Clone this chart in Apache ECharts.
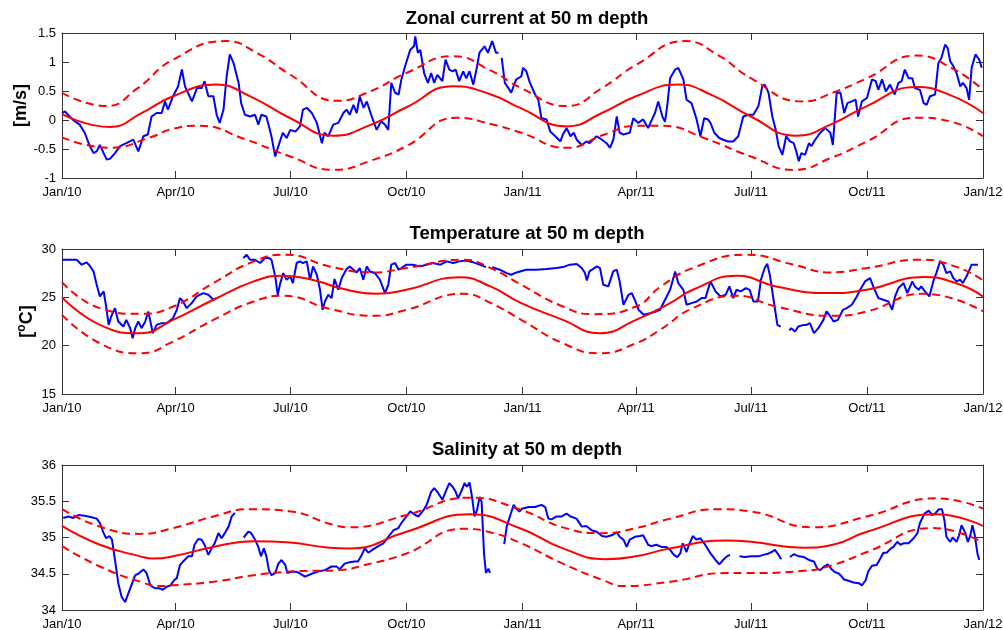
<!DOCTYPE html>
<html>
<head>
<meta charset="utf-8">
<title>50 m mooring records 2010-2011</title>
<script src="https://cdn.jsdelivr.net/npm/echarts@6/dist/echarts.min.js"></script>
<style>
  html, body { margin: 0; padding: 0; background: #fff; }
  #chart { width: 1003px; height: 630px; }
</style>
</head>
<body>
<div id="chart"></div>
<script>
// Time is counted in days from 1 Jan 2010.
const tickDays = [0, 90, 181, 273, 365, 455, 546, 638, 730];
const tickLabels = ['Jan/10', 'Apr/10', 'Jul/10', 'Oct/10', 'Jan/11', 'Apr/11', 'Jul/11', 'Oct/11', 'Jan/12'];

// Zonal current [m/s]: observed record, seasonal fit and its upper/lower envelope
const zonalObs = [
  [0,0.12],[2.4,0.15],[6,0.06],[10,-0.02],[14,-0.08],[18,-0.22],[22,-0.45],[25,-0.57],[27.5,-0.54],[30,-0.43],
  [33,-0.57],[35.4,-0.68],[38,-0.67],[42,-0.57],[46,-0.45],[51,-0.40],[56.5,-0.34],[60.5,-0.54],[64.5,-0.28],[68,-0.25],
  [71,0.06],[75,0.12],[79,0.12],[81.6,0.32],[84,0.18],[88,0.41],[92,0.58],[95,0.87],[97.5,0.58],[103,0.32],
  [107,0.55],[110.7,0.55],[113,0.67],[116,0.41],[120,0.41],[122.6,0.09],[125,-0.05],[128,0.18],[130.5,0.75],[133,1.13],
  [136,0.98],[140,0.64],[142,0.29],[145,0.09],[149,0.06],[153,0.09],[155.6,-0.08],[158,0.09],[162,0.06],[166,-0.28],
  [169,-0.63],[171.5,-0.45],[175,-0.22],[178,-0.31],[181,-0.17],[185,-0.20],[188.6,-0.11],[191,0.18],[194,0.21],[198,0.12],
  [202,-0.05],[206,-0.40],[208,-0.22],[211,-0.28],[215,-0.08],[219,-0.05],[223,0.12],[225.5,0.18],[228,0.09],[231,0.26],
  [233.6,0.12],[236,0.41],[239,0.21],[241.6,0.32],[245.5,0.06],[249.4,-0.17],[253,-0.02],[256,-0.08],[258.6,-0.17],[261,0.64],
  [264,0.47],[266.8,0.44],[269,0.70],[272,0.93],[276,1.21],[279,1.27],[280,1.44],[282,1.16],[284,1.21],[287,0.81],
  [290,0.64],[292.6,0.81],[295,0.64],[297.5,0.78],[301.5,0.67],[304,1.04],[307,0.87],[309.6,0.84],[312,0.87],[314.8,0.67],
  [318,0.84],[320.4,0.72],[323,0.84],[326,0.61],[328.5,0.87],[330.9,1.16],[334.9,1.27],[337.6,1.16],[341,1.36],[344,1.16],
  [346,1.16],[347,null],[348.5,1.07],[351,0.64],[353.8,0.55],[356,0.47],[360,0.70],[364,0.75],[365.5,0.90],[368,0.84],
  [370.9,0.64],[375,0.44],[377.5,0.35],[380,0.03],[384,0.01],[387,-0.20],[391,-0.28],[395,-0.37],[397,-0.25],[400,-0.14],
  [403,-0.28],[405.6,-0.22],[408,-0.34],[412,-0.43],[415.6,-0.37],[418,-0.40],[423.8,-0.28],[428,-0.34],[431.6,-0.40],[434.4,-0.48],
  [437,-0.34],[439.7,0.06],[442,-0.22],[445,-0.25],[450,-0.22],[452.8,0.03],[456.8,-0.05],[460.6,0.01],[464.6,-0.14],[467,-0.02],
  [470,0.12],[472.6,0.32],[476,0.05],[478,-0.03],[480,0.30],[482,0.72],[486,0.87],[488.5,0.90],[492.5,0.70],[495,0.35],
  [499,0.29],[503,0.01],[506,-0.28],[509,0.03],[512,0.01],[514,-0.05],[517,-0.22],[521,-0.31],[524,-0.34],[528,-0.37],
  [532,-0.37],[536,-0.28],[540,0.06],[544,0.09],[548,0.09],[552,0.24],[555,0.58],[557,0.61],[560,0.47],[563,0.06],
  [565.7,-0.17],[568,-0.45],[571,-0.60],[574,-0.28],[577,-0.37],[580,-0.40],[582,-0.54],[584,-0.71],[586,-0.57],[589,-0.60],
  [592,-0.40],[594,-0.45],[597,-0.34],[601,-0.22],[605,-0.14],[609,-0.22],[611,-0.43],[614,0.47],[617,0.47],[620,0.12],
  [622.5,0.29],[626,0.32],[629,0.35],[631,0.06],[634,0.32],[638,0.38],[642,0.70],[645,0.67],[647,0.52],[650,0.70],
  [653,0.49],[656.3,0.61],[660,0.44],[663,0.64],[665.5,0.67],[668,0.87],[671,0.72],[674,0.72],[676,0.55],[680,0.52],
  [683,0.29],[685.3,0.26],[688,0.41],[692,0.44],[694.6,0.98],[697,1.07],[700,1.30],[702,1.24],[704,1.01],[706.5,0.93],
  [709,0.81],[712,0.58],[714,0.64],[717,0.55],[719,0.35],[721,0.90],[724,1.13],[727,1.04],[729,0.90]
];
const zonalFit = [
  [0,0.10],[38,-0.12],[63,0.12],[88,0.41],[122,0.61],[150,0.40],[181,0.03],[215,-0.27],[245,-0.08],[273,0.22],
  [310,0.58],[340,0.44],[364,0.20],[400,-0.11],[428,0.12],[455,0.41],[488,0.61],[516,0.42],[546,0.06],[582,-0.27],
  [610,-0.07],[638,0.24],[677,0.57],[705,0.42],[730,0.12]
];
const zonalHi = [
  [0,0.47],[35,0.24],[60,0.55],[88,1.04],[130,1.36],[155,1.15],[181,0.78],[218,0.33],[245,0.50],[273,0.81],
  [310,1.10],[340,0.85],[364,0.55],[400,0.24],[428,0.55],[455,0.95],[494,1.36],[520,1.12],[546,0.72],[587,0.32],
  [612,0.48],[638,0.72],[677,1.11],[705,0.90],[730,0.52]
];
const zonalLo = [
  [0,-0.30],[38,-0.48],[70,-0.30],[88,-0.15],[109,-0.10],[145,-0.33],[181,-0.63],[215,-0.86],[245,-0.70],[273,-0.45],
  [313,0.04],[340,-0.07],[364,-0.22],[400,-0.48],[430,-0.25],[455,-0.10],[476,-0.10],[510,-0.32],[546,-0.63],[580,-0.86],
  [610,-0.65],[638,-0.37],[677,0.04],[705,-0.03],[730,-0.28]
];

// Temperature [degC]
const tempObs = [
  [0,28.89],[11.6,28.89],[15.6,28.38],[19.5,28.62],[22,28.27],[25,27.68],[27.5,26.30],[30,25.09],[33,25.61],[35,24.05],
  [37,22.15],[39,23.02],[42,23.88],[44.6,22.50],[48.6,21.98],[51,22.67],[54,21.81],[56,20.77],[58,21.81],[60.5,22.50],
  [63,21.81],[66,22.50],[68.4,23.54],[72,21.29],[75,22.15],[79,22.33],[83,22.33],[88,22.84],[91,23.71],[93.5,24.92],
  [96,24.57],[98.8,23.88],[102.8,24.40],[106.7,25.09],[112,25.44],[116,25.26],[120,24.75],[122.6,24.92],[130,null],
  [143.7,29.07],[146.4,29.41],[149,28.89],[153,28.89],[157,28.55],[161,29.07],[163.6,29.07],[166,28.89],[169,27.17],[171,25.26],
  [173,26.47],[175.4,27.51],[178,26.82],[181,27.17],[183,26.47],[186,28.55],[188.6,28.72],[191,28.55],[194,28.72],[196.6,26.82],
  [199,28.20],[202,27.34],[204.5,25.78],[206.6,23.71],[208.4,24.57],[211,25.26],[213.7,24.92],[216,26.90],[219,25.78],[221.7,26.99],
  [225.6,27.93],[228,28.20],[231,27.86],[233.6,27.58],[236,28.03],[238.8,26.82],[241.5,28.20],[244,27.68],[248,27.51],[252,26.82],
  [256,25.44],[258.6,26.30],[261,28.38],[264,28.55],[266.8,27.86],[269,28.03],[273,28.38],[278,28.38],[283.8,28.20],[289,28.38],
  [294,28.55],[300,28.38],[305,28.72],[310,28.55],[315,28.72],[320,28.82],[326,28.62],[331,28.38],[336,28.13],[339,null],
  [341,28.13],[347,27.86],[352.4,27.51],[356,27.34],[359,27.51],[363,27.68],[368,27.86],[376,27.86],[384,27.93],[392,28.03],
  [397,28.13],[402.6,28.38],[408,28.44],[412,28.03],[414.5,27.51],[416,26.75],[418,27.68],[424,28.20],[426.4,28.03],[429,26.30],
  [433,26.13],[436.9,27.68],[439.7,27.86],[442,26.65],[445,24.23],[449,25.26],[451.6,25.44],[454,24.75],[457,23.71],[461,23.19],
  [466,23.36],[471,23.54],[474,23.71],[478,24.75],[482,25.78],[486,27.68],[488.5,26.47],[492.5,25.78],[495,24.23],[499,24.40],
  [503,24.57],[507,24.92],[510,24.92],[514,26.65],[518,25.61],[522,25.09],[526,25.26],[529,26.13],[532,24.92],[534.6,25.78],
  [538,25.61],[542,25.96],[545,25.78],[548,24.57],[551.6,24.57],[554,26.82],[557,28.03],[559,28.48],[561,27.34],[564,24.75],
  [567,22.15],[569.6,21.98],[573,null],
  [576.5,21.57],[578,21.81],[581,21.46],[583.6,21.98],[588,22.15],[590,22.15],[592.8,22.33],[596,21.29],[599.5,21.81],[603.5,22.67],
  [606,23.54],[609,23.02],[611.6,22.50],[615,22.67],[619,23.71],[622,23.88],[626,24.23],[630,25.09],[632.6,25.78],[636.5,26.65],
  [640.5,26.99],[643,26.13],[647,24.92],[651,24.75],[655,24.57],[658,23.71],[660.3,25.09],[663,25.96],[667,26.47],[670,25.44],
  [674,26.65],[676,26.13],[679,25.78],[681,26.13],[684,25.61],[687.5,25.09],[690.6,26.65],[693,27.51],[696,28.72],[698.6,28.38],
  [701,27.51],[704,27.68],[706.5,26.99],[709,26.65],[712,26.82],[714,26.47],[717,27.17],[721,28.38],[724,28.38],[726,28.38]
];
const tempFit = [
  [0,25.00],[30,22.15],[62,21.29],[88,22.67],[120,24.75],[152,26.65],[175,27.23],[202,26.70],[220,25.96],[249,25.37],
  [273,25.78],[315,27.08],[340,26.10],[364,24.40],[397,22.67],[426,21.29],[455,22.67],[482,24.40],[500,25.78],[535,27.23],
  [566,26.13],[606,25.44],[638,25.78],[683,27.10],[710,26.40],[730,25.09]
];
const tempHi = [
  [0,26.58],[30,23.88],[62,23.29],[88,24.05],[120,26.47],[152,28.72],[178,29.41],[212,28.20],[247,27.58],[273,28.03],
  [318,28.90],[340,28.00],[364,26.30],[397,24.05],[421,23.26],[455,24.05],[474,26.06],[500,28.03],[543,29.41],[580,28.38],
  [609,27.58],[638,28.03],[680,28.90],[710,28.10],[730,26.75]
];
const tempLo = [
  [0,23.19],[30,20.25],[62,19.21],[88,20.43],[120,22.67],[152,24.57],[175,25.16],[212,23.81],[247,23.09],[273,23.71],
  [318,25.37],[340,24.40],[364,22.67],[397,20.25],[426,19.21],[455,20.25],[474,21.64],[500,23.88],[535,25.16],[566,24.05],
  [611,23.09],[638,23.54],[683,25.37],[730,23.54]
];

// Salinity
const salObs = [
  [1,35.27],[5,35.29],[9,35.27],[13,35.31],[18,35.30],[23.5,35.28],[27.5,35.26],[30,35.20],[33,35.06],[35,34.99],
  [37.5,35.02],[39.6,34.97],[42,34.69],[44.6,34.37],[47.3,34.18],[50,34.11],[52.6,34.23],[55,34.34],[58,34.48],[60.5,34.50],
  [64.5,34.56],[67,34.51],[70,34.34],[73.7,34.30],[77,34.30],[80,34.28],[83,34.32],[86,34.34],[88.8,34.41],[91,34.44],
  [93.5,34.62],[96,34.67],[100,34.74],[103,34.74],[105,34.90],[108,34.98],[110.7,34.97],[113,34.90],[116,34.76],[118.6,34.85],
  [121,34.92],[124,35.06],[126.5,34.99],[129,35.06],[132,35.15],[134.5,35.29],[137,35.34],[140,null],
  [144,35.00],[147.7,35.08],[150,35.06],[153,34.97],[155.6,34.87],[157.7,34.74],[160,34.85],[162,34.74],[164,34.55],[166,34.48],
  [169,34.51],[171.5,34.64],[174,34.69],[177,34.62],[178.6,34.51],[182,34.53],[187,34.52],[192.6,34.46],[198,34.50],[203,34.53],
  [208.5,34.55],[213.7,34.60],[217.7,34.60],[220,34.56],[224,34.64],[228,34.66],[232,34.67],[234.6,34.67],[237,34.74],[240,34.85],
  [242.8,34.79],[246.8,34.84],[250.7,34.88],[254.7,34.92],[258.6,35.01],[262.7,35.10],[266.6,35.13],[269,35.20],[273,35.29],[276,35.36],
  [280,35.31],[282.6,35.29],[286.6,35.38],[289,35.45],[292.6,35.63],[295,35.68],[297.5,35.63],[301.5,35.52],[304,35.63],[307,35.75],
  [309.6,35.70],[312,35.63],[314,35.54],[318,35.70],[319,35.75],[321,35.70],[323,35.76],[325,35.56],[327,35.29],[329,35.38],
  [331,35.56],[332.6,35.49],[334.5,34.78],[336,34.51],[338,34.57],[339.2,34.51],[345,null],
  [350.5,34.91],[352.5,35.15],[355,35.29],[358,35.45],[360,35.40],[362.5,35.36],[365,35.40],[370,35.42],[375,35.42],[380,35.45],
  [383,35.42],[385.5,35.26],[388,35.25],[392,35.29],[396,35.29],[400,35.33],[403,35.29],[407.8,35.26],[412,35.15],[415.6,35.16],
  [419.8,35.10],[423.8,35.08],[428,35.02],[431.6,35.01],[435.7,35.03],[439.7,35.07],[442,35.01],[445,34.97],[447.6,34.87],[450,34.97],
  [454,35.01],[458,35.02],[460.6,35.03],[464.6,34.90],[467,34.88],[471,34.90],[475,34.87],[479,34.87],[482,34.83],[485,34.76],
  [487.6,34.73],[490,34.78],[492,34.92],[495,34.80],[497,34.90],[500,35.02],[503,34.97],[506,34.99],[509,34.92],[511.6,34.85],
  [514,34.78],[518,34.69],[521,34.63],[524,34.69],[527,34.74],[529.5,34.76],[533,null],
  [537,34.74],[541,34.73],[546.6,34.74],[552,34.74],[556,34.76],[560,34.78],[562.6,34.80],[565,34.83],[568,34.76],[570,34.70],[573,null],
  [577,34.73],[580,34.77],[584,34.74],[588,34.73],[592,34.69],[596,34.67],[598.6,34.57],[601,34.55],[604,34.60],[607,34.63],
  [609.6,34.57],[612,34.53],[616,34.50],[620,34.42],[624,34.40],[627.3,34.38],[631.6,34.37],[634,34.34],[637,34.41],[639,34.53],
  [642,34.61],[645.6,34.62],[648,34.69],[651,34.79],[653.6,34.79],[657,34.85],[659,34.87],[662,34.94],[664.6,34.90],[667,34.92],
  [671,34.92],[675,34.99],[678,35.06],[680,35.20],[683.6,35.33],[687,35.37],[689.6,35.31],[692,35.33],[695,35.39],[697.5,35.39],
  [699.4,35.24],[701,35.01],[704,34.94],[706,35.00],[709,34.94],[711,35.03],[713,35.17],[716,35.06],[718,34.94],[720,35.03],
  [721.6,35.17],[723.5,35.03],[725.6,34.78],[727,34.69]
];
const salFit = [
  [0,35.16],[30,34.90],[62,34.74],[72,34.71],[88,34.74],[120,34.87],[152,34.95],[181,34.93],[212,34.86],[228,34.85],
  [273,35.08],[323,35.32],[364,35.12],[397,34.85],[431,34.70],[455,34.74],[482,34.85],[527,34.96],[546,34.94],[588,34.86],
  [611,34.90],[638,35.08],[693,35.32],[730,35.16]
];
const salHi = [
  [0,35.39],[30,35.15],[62,35.05],[88,35.13],[120,35.29],[149,35.39],[181,35.36],[212,35.19],[228,35.14],[273,35.31],
  [323,35.55],[364,35.38],[397,35.14],[429,35.06],[455,35.13],[482,35.26],[519,35.39],[546,35.36],[595,35.14],[638,35.29],
  [693,35.54],[730,35.40]
];
const salLo = [
  [0,34.88],[30,34.60],[62,34.39],[78,34.33],[88,34.34],[120,34.39],[152,34.48],[181,34.53],[220,34.55],[240,34.62],
  [273,34.78],[318,35.12],[340,35.07],[364,34.92],[397,34.64],[429,34.41],[445,34.33],[482,34.39],[527,34.51],[546,34.51],
  [588,34.54],[611,34.62],[638,34.80],[690,35.13],[730,34.93]
];

const panels = [
  { title: 'Zonal current at 50 m depth', top: 33, titleTop: 4, min: -1, max: 1.5, step: 0.5,
    name: '[m/s]', nameGap: 32, obs: zonalObs, fit: zonalFit, hi: zonalHi, lo: zonalLo },
  { title: 'Temperature at 50 m depth', top: 249, titleTop: 219, min: 15, max: 30, step: 5,
    name: '[{s|o}C]', nameGap: 24, obs: tempObs, fit: tempFit, hi: tempHi, lo: tempLo },
  { title: 'Salinity at 50 m depth', top: 465, titleTop: 435, min: 34, max: 36, step: 0.5,
    name: '', nameGap: 30, obs: salObs, fit: salFit, hi: salHi, lo: salLo }
];

const FONT = "'Liberation Sans', Arial, Helvetica, sans-serif";
const frameColor = '#333';
const grids = [], xAxes = [], yAxes = [], titles = [], series = [];

panels.forEach((p, i) => {
  grids.push({ left: 62, top: p.top, width: 921, height: 145, containLabel: false, outerBoundsMode: 'none' });
  titles.push({
    text: p.title, left: 522, top: p.titleTop, textAlign: 'center',
    textStyle: { fontFamily: FONT, fontSize: 18.5, fontWeight: 'bold', color: '#000' }
  });
  const tickCommon = { show: true, inside: true, length: 7, lineStyle: { color: frameColor, width: 1 } };
  // bottom time axis with labels, top mirror axis with ticks only
  xAxes.push({
    gridIndex: i, type: 'value', position: 'bottom', min: 0, max: 730,
    axisLine: { show: true, onZero: false, lineStyle: { color: frameColor, width: 1 } },
    axisTick: Object.assign({ customValues: tickDays }, tickCommon),
    axisLabel: {
      customValues: tickDays, showMinLabel: true, showMaxLabel: true, margin: 8,
      fontFamily: FONT, fontSize: 13, color: '#000',
      formatter: v => tickLabels[tickDays.indexOf(v)]
    },
    splitLine: { show: false }
  });
  xAxes.push({
    gridIndex: i, type: 'value', position: 'top', min: 0, max: 730,
    axisLine: { show: true, onZero: false, lineStyle: { color: frameColor, width: 1 } },
    axisTick: Object.assign({ customValues: tickDays }, tickCommon),
    axisLabel: { show: false },
    splitLine: { show: false }
  });
  yAxes.push({
    gridIndex: i, type: 'value', position: 'left', min: p.min, max: p.max, interval: p.step,
    axisLine: { show: true, onZero: false, lineStyle: { color: frameColor, width: 1 } },
    axisTick: tickCommon,
    axisLabel: { margin: 6, fontFamily: FONT, fontSize: 13, color: '#000' },
    splitLine: { show: false },
    name: p.name, nameLocation: 'middle', nameGap: p.nameGap, nameMoveOverlap: false,
    nameTextStyle: {
      fontFamily: FONT, fontSize: 18, fontWeight: 'bold', color: '#000',
      rich: { s: { fontFamily: FONT, fontSize: 12, fontWeight: 'bold', color: '#000', verticalAlign: 'top', lineHeight: 22 } }
    }
  });
  yAxes.push({
    gridIndex: i, type: 'value', position: 'right', min: p.min, max: p.max, interval: p.step,
    axisLine: { show: true, onZero: false, lineStyle: { color: frameColor, width: 1 } },
    axisTick: tickCommon,
    axisLabel: { show: false },
    splitLine: { show: false }
  });

  const ax = { xAxisIndex: 2 * i, yAxisIndex: 2 * i };
  series.push(Object.assign({
    type: 'line', data: p.obs, showSymbol: false, connectNulls: false, clip: true,
    lineStyle: { color: '#0000ff', width: 2 }, z: 2
  }, ax));
  series.push(Object.assign({
    type: 'line', data: p.fit, showSymbol: false, smooth: 0.5,
    lineStyle: { color: '#ff0000', width: 2 }, z: 3
  }, ax));
  [p.hi, p.lo].forEach(band => {
    series.push(Object.assign({
      type: 'line', data: band, showSymbol: false, smooth: 0.5,
      lineStyle: { color: '#ff0000', width: 2, type: [8, 5] }, z: 3
    }, ax));
  });
});

const chart = echarts.init(document.getElementById('chart'), null, { renderer: 'canvas' });
chart.setOption({
  animation: false,
  backgroundColor: '#fff',
  title: titles,
  grid: grids,
  xAxis: xAxes,
  yAxis: yAxes,
  series: series
});
</script>
</body>
</html>
